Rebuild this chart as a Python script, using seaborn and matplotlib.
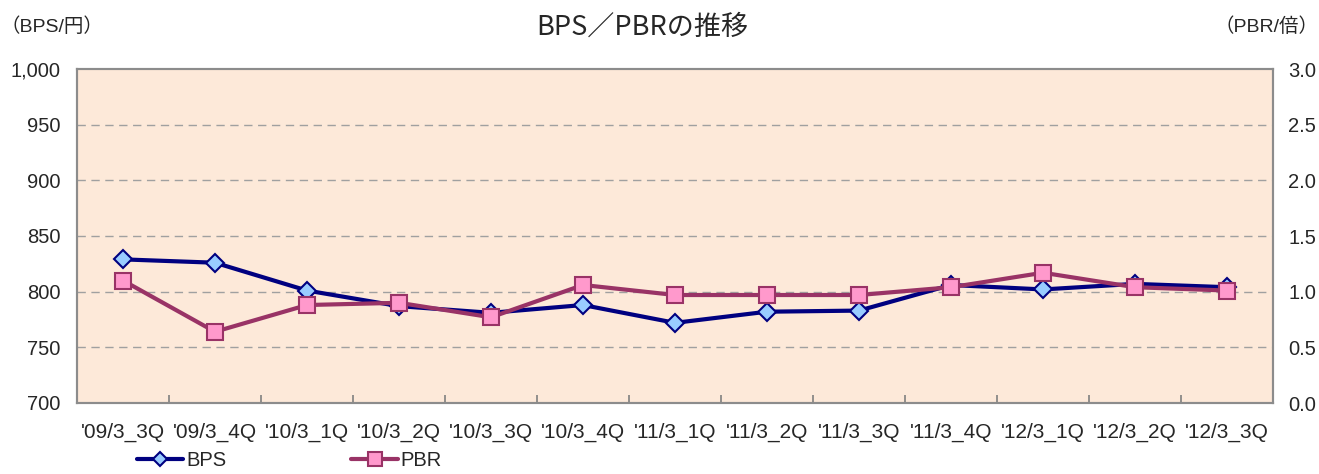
import pandas as pd
import matplotlib
matplotlib.use("Agg")
import matplotlib.pyplot as plt
import seaborn as sns

## quarter labels and values
quarters = ["'09/3_3Q", "'09/3_4Q", "'10/3_1Q", "'10/3_2Q", "'10/3_3Q", "'10/3_4Q",
            "'11/3_1Q", "'11/3_2Q", "'11/3_3Q", "'11/3_4Q", "'12/3_1Q", "'12/3_2Q", "'12/3_3Q"]
bps = [829, 826, 801, 787, 781, 788, 772, 782, 783, 806, 802, 807, 804]
pbr = [1.10, 0.64, 0.88, 0.90, 0.77, 1.06, 0.97, 0.97, 0.97, 1.04, 1.17, 1.04, 1.01]

bps_ticks = [700, 750, 800, 850, 900, 950, 1000]
pbr_ticks = [0.0, 0.5, 1.0, 1.5, 2.0, 2.5, 3.0]

df = pd.DataFrame({'quarter': quarters, 'BPS': bps, 'PBR': pbr})
df['pos'] = range(len(df))

sns.set_style("white")
plt.rcParams['font.family'] = ['Liberation Sans', 'Noto Sans CJK JP', 'DejaVu Sans']

fig = plt.figure(figsize=(13.19, 4.74), dpi=100)
ax = fig.add_axes([77/1319, 1 - 403/474, (1273-77)/1319, (403-69)/474])
ax.set_facecolor('#FDE9D9')
ax2 = ax.twinx()

## BPS on left axis
sns.lineplot(data=df, x='pos', y='BPS', ax=ax, color='#000080', lw=3,
             marker='D', markersize=9, markerfacecolor='#99CCFF',
             markeredgecolor='#000080', markeredgewidth=1.5, label='BPS', legend=False)
## PBR on right axis
sns.lineplot(data=df, x='pos', y='PBR', ax=ax2, color='#993366', lw=3,
             marker='s', markersize=12, markerfacecolor='#FF99CC',
             markeredgecolor='#993366', markeredgewidth=1.5, label='PBR', legend=False)

ax.set_xlim(-0.5, len(quarters) - 0.5)
ax.set_ylim(700, 1000)
ax2.set_ylim(0, 3.0)
ax.set_yticks(bps_ticks)
ax.set_yticklabels([f'{v:,}' for v in bps_ticks])
ax2.set_yticks(pbr_ticks)
ax2.set_yticklabels([f'{v:.1f}' for v in pbr_ticks])

ax.set_xticks(df['pos'])
ax.set_xticklabels(quarters)
ax.set_xticks([p - 0.5 for p in df['pos']][1:], minor=True)
ax.tick_params(axis='x', which='major', length=0, labelsize=15, pad=14)
ax.tick_params(axis='x', which='minor', direction='in', length=6, color='#808080', width=1.2, bottom=True)
ax.tick_params(axis='y', length=0, labelsize=14.5, pad=12)
ax2.tick_params(axis='y', length=0, labelsize=14.5, pad=11)
ax.set_xlabel('')
ax.set_ylabel('')
ax2.set_ylabel('')

for y in bps_ticks[1:-1]:
    ax.axhline(y, color='#A0A0A0', lw=1, ls=(0, (6, 4)), zorder=0)

for a in (ax, ax2):
    for s in a.spines.values():
        s.set_color('#8C8C8C')
        s.set_linewidth(1.5)

fig.text(642/1319, 1 - 27/474, 'BPS／PBRの推移', ha='center', va='center',
         fontsize=19.5, family=['Noto Sans CJK JP'])
fig.text(0, 1 - 27/474, '（BPS/円）', ha='left', va='center', fontsize=14)
fig.text(1, 1 - 27/474, '（PBR/倍）', ha='right', va='center', fontsize=14)

h1, l1 = ax.get_legend_handles_labels()
h2, l2 = ax2.get_legend_handles_labels()
fig.legend(h1 + h2, l1 + l2, loc='lower left', bbox_to_anchor=(129/1319, -0.008),
           ncol=2, frameon=False, fontsize=14.5, handlelength=2.3, handletextpad=0.15,
           columnspacing=6.2, borderaxespad=0, markerscale=0.8)

fig.savefig('out.png', dpi=100)
